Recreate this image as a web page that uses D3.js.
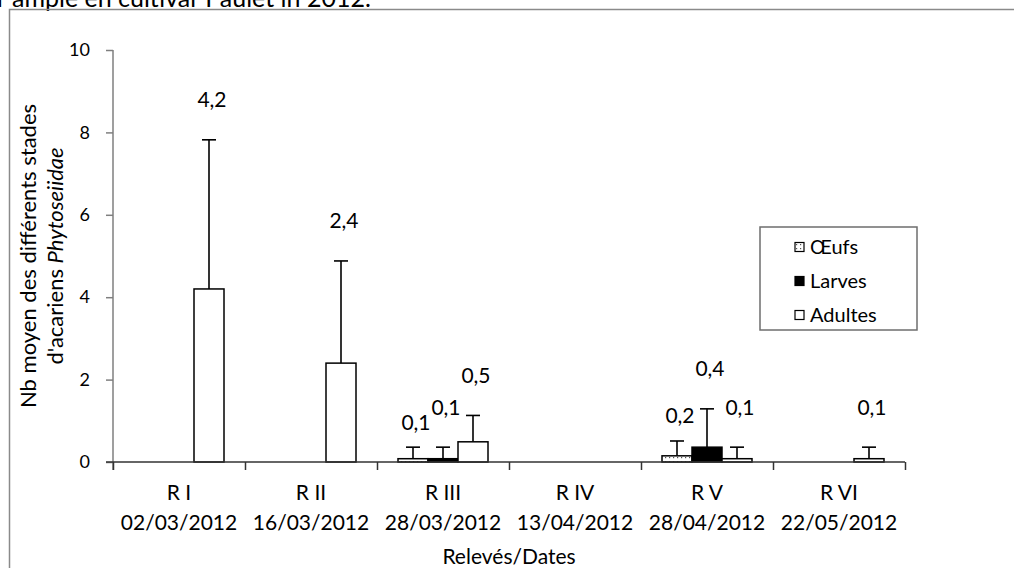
<!DOCTYPE html>
<html>
<head>
<meta charset="utf-8">
<script src="https://cdn.jsdelivr.net/npm/d3@7"></script>
<style>
  html, body { margin: 0; padding: 0; background: #fff; }
  svg { display: block; font-family: Lato, "Open Sans", sans-serif; }
</style>
</head>
<body>
<svg id="chart" width="1014" height="568"></svg>
<script>
// ---- data ----
const categories = ["R I", "R II", "R III", "R IV", "R V", "R VI"];
const dates = ["02/03/2012", "16/03/2012", "28/03/2012", "13/04/2012", "28/04/2012", "22/05/2012"];
const seriesNames = ["Œufs", "Larves", "Adultes"];
const oeufs   = [0, 0, 0.08, 0, 0.15, 0];
const larves  = [0, 0, 0.08, 0, 0.36, 0];
const adultes = [4.2, 2.4, 0.49, 0, 0.08, 0.08];
const oeufsSd   = [0, 0, 0.28, 0, 0.36, 0];
const larvesSd  = [0, 0, 0.28, 0, 0.93, 0];
const adultesSd = [3.62, 2.48, 0.64, 0, 0.28, 0.28];
const yTicks = [0, 2, 4, 6, 8, 10];
const yTitle1 = "Nb moyen des différents stades";
const yTitle2a = "d'acariens ";
const yTitle2b = "Phytoseiidae";
const xTitle = "Relevés/Dates";
const topText = "r ample en cultivar Paulet in 2012.";

// ---- build ----
const values = [oeufs, larves, adultes];
const sds = [oeufsSd, larvesSd, adultesSd];
const labelLift = [25, 40, 40];

const svg = d3.select("#chart");
const pLeft = 113, pRight = 905, pTop = 50, pBottom = 462;

const defs = svg.append("defs");
const pat = defs.append("pattern").attr("id", "dots")
  .attr("patternUnits", "userSpaceOnUse").attr("width", 4).attr("height", 4);
pat.append("rect").attr("width", 4).attr("height", 4).attr("fill", "#fff");
pat.append("rect").attr("x", 1).attr("y", 1).attr("width", 1.2).attr("height", 1.2).attr("fill", "#555");

const fills = ["url(#dots)", "#000", "#fff"];

// top clipped caption (cut off by the page edge, as in the reference)
svg.append("text").attr("x", -3).attr("y", 7)
  .attr("font-size", 25).attr("fill", "#000").text(topText);

// outer frame
svg.append("rect").attr("x", 9.5).attr("y", 9.5).attr("width", 1100).attr("height", 700)
  .attr("fill", "none").attr("stroke", "#8a8a8a").attr("stroke-width", 1.5);

const x0 = d3.scaleBand().domain(categories).range([pLeft, pRight]).paddingInner(0).paddingOuter(0);
const x1 = d3.scaleBand().domain(seriesNames).range([0, x0.bandwidth()]).paddingInner(0).paddingOuter(0.7);
const y = d3.scaleLinear().domain([0, 10]).range([pBottom, pTop]);

// y axis
const yAxis = svg.append("g").attr("transform", `translate(${pLeft},0)`)
  .call(d3.axisLeft(y).tickValues(yTicks).tickSize(7).tickPadding(16).tickFormat(d3.format("d")));
yAxis.select(".domain").attr("stroke", "#7f7f7f").attr("stroke-width", 1.5)
  .attr("d", `M0,${pTop}V${pBottom + 8}`);
yAxis.selectAll(".tick line").attr("stroke", "#7f7f7f").attr("stroke-width", 1.5);
yAxis.selectAll(".tick text").attr("font-size", 18).attr("font-family", "Lato").attr("fill", "#000");

// bars
const groups = svg.append("g").selectAll("g").data(seriesNames).join("g");
groups.each(function(s, si) {
  const g = d3.select(this);
  const data = categories.map((c, i) => ({c, v: values[si][i], sd: sds[si][i]})).filter(d => d.v > 0);
  data.forEach(d => {
    const cx = x0(d.c) + x1(s) + x1.bandwidth() / 2;
    g.append("line").attr("x1", cx).attr("x2", cx)
      .attr("y1", y(d.v)).attr("y2", y(d.v + d.sd)).attr("stroke", "#000").attr("stroke-width", 1.6);
    g.append("line").attr("x1", cx - 7).attr("x2", cx + 7)
      .attr("y1", y(d.v + d.sd)).attr("y2", y(d.v + d.sd)).attr("stroke", "#000").attr("stroke-width", 1.6);
    g.append("text").attr("x", cx + 3).attr("y", y(d.v + d.sd) - labelLift[si])
      .attr("dy", "0.35em").attr("text-anchor", "middle").attr("font-size", 21).attr("fill", "#000")
      .text(String(Math.round(d.v * 10) / 10).replace(".", ","));
  });
  g.selectAll("rect").data(data).join("rect")
    .attr("x", d => x0(d.c) + x1(s))
    .attr("y", d => y(d.v))
    .attr("width", x1.bandwidth())
    .attr("height", d => y(0) - y(d.v))
    .attr("fill", fills[si]).attr("stroke", "#000").attr("stroke-width", 1.5);
});

// x axis
const xb = d3.scaleLinear().domain([0, categories.length]).range([pLeft, pRight]);
const xAxis = svg.append("g").attr("transform", `translate(0,${pBottom})`)
  .call(d3.axisBottom(xb).tickValues(d3.range(0, categories.length + 1)).tickSize(8).tickFormat(""));
xAxis.select(".domain").attr("stroke", "#333").attr("stroke-width", 1.5)
  .attr("d", `M${pLeft - 7},0H${pRight}`);
xAxis.selectAll(".tick line").attr("stroke", "#333").attr("stroke-width", 1.5);

const xl = svg.append("g").attr("transform", `translate(0,${pBottom})`)
  .call(d3.axisBottom(x0).tickSize(0).tickPadding(0));
xl.select(".domain").remove();
xl.selectAll(".tick text").each(function(d, i) {
  const t = d3.select(this).text(null).attr("font-size", 21).attr("fill", "#000")
    .attr("font-family", "Lato").attr("y", 0).attr("dy", null);
  t.append("tspan").attr("x", 0).attr("y", 31).attr("dy", "0.35em").text(d);
  t.append("tspan").attr("x", 0).attr("y", 61).attr("dy", "0.35em").text(dates[i]);
});

// axis titles
svg.append("text").attr("x", (pLeft + pRight) / 2).attr("y", 557).attr("dy", "0.35em")
  .attr("text-anchor", "middle").attr("font-size", 21).text(xTitle);
svg.append("text").attr("transform", `translate(28,${(pTop + pBottom) / 2}) rotate(-90)`)
  .attr("text-anchor", "middle").attr("dy", "0.35em").attr("font-size", 22).text(yTitle1);
const yt2 = svg.append("text").attr("transform", `translate(55,${(pTop + pBottom) / 2}) rotate(-90)`)
  .attr("text-anchor", "middle").attr("dy", "0.35em").attr("font-size", 22);
yt2.append("tspan").text(yTitle2a);
yt2.append("tspan").attr("font-style", "italic").text(yTitle2b);

// legend
const lg = svg.append("g");
lg.append("rect").attr("x", 760).attr("y", 227).attr("width", 157).attr("height", 103)
  .attr("fill", "#fff").attr("stroke", "#6e6e6e").attr("stroke-width", 1.5);
const items = lg.selectAll("g.item").data(seriesNames).join("g").attr("class", "item")
  .attr("transform", (d, i) => `translate(795,${247 + i * 34})`);
items.append("rect").attr("x", 0).attr("y", -4.5).attr("width", 9).attr("height", 9)
  .attr("fill", (d, i) => fills[i]).attr("stroke", "#000").attr("stroke-width", 1.2);
items.append("text").attr("x", 15).attr("dy", "0.35em").attr("font-size", 20).text(d => d);
</script>
</body>
</html>
